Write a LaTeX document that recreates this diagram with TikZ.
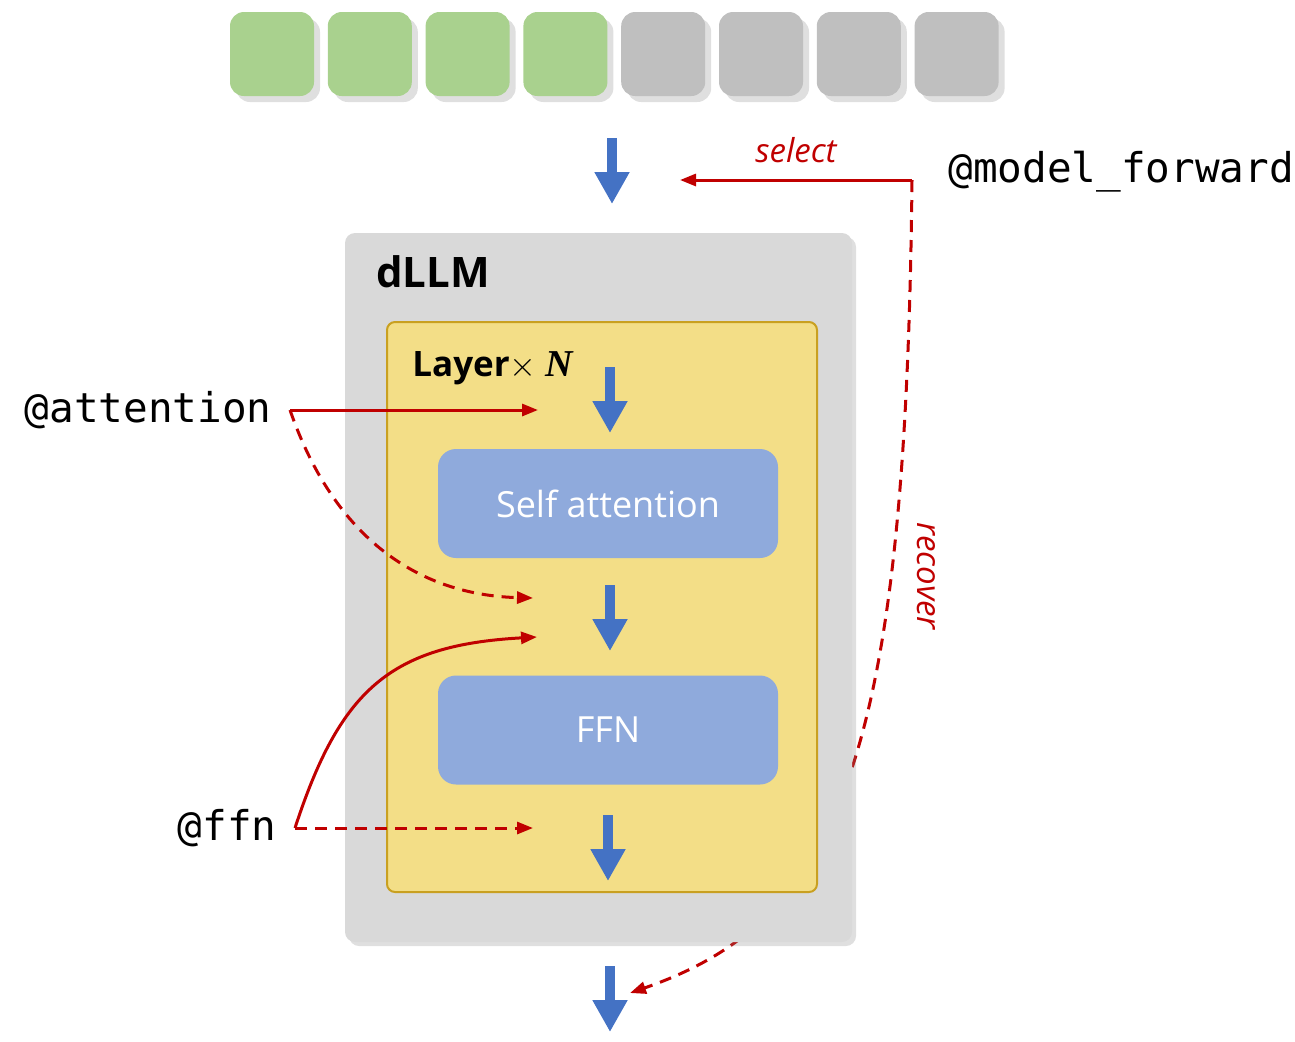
\documentclass[tikz,border=0pt]{standalone}
\usepackage{fontspec}
\setmainfont{Open Sans}
\setmonofont{DejaVu Sans Mono}
\newfontfamily\serifbi{Liberation Serif}
\usetikzlibrary{arrows.meta, positioning, calc, shadows}

\definecolor{tokgreen}{HTML}{A9D18E}
\definecolor{tokgray}{HTML}{BFBFBF}
\definecolor{tokshadow}{HTML}{DFDFDF}
\definecolor{boxgray}{HTML}{D9D9D9}
\definecolor{layeryellow}{HTML}{F3DE87}
\definecolor{layeredge}{HTML}{C9A020}
\definecolor{blockblue}{HTML}{8FAADC}
\definecolor{flowblue}{HTML}{4472C4}
\definecolor{hookred}{HTML}{C00000}

\begin{document}
\begin{tikzpicture}[x=0.5pt, y=-0.5pt,
    token/.style={rounded corners=7pt, minimum width=42pt, minimum height=42pt, inner sep=0pt},
    flow/.style={draw=flowblue, line width=5pt, -{Triangle[width=16.5pt,length=16pt]}},
    hook/.style={draw=hookred, line width=1.5pt, -{Triangle[width=6pt,length=8pt]}},
    hookdash/.style={hook, dash pattern=on 6pt off 4pt},
    block/.style={fill=blockblue, rounded corners=9pt, minimum width=170pt, minimum height=54.5pt, text=white, font=\fontsize{18}{20}\selectfont},
    tag/.style={font=\ttfamily\fontsize{20.5}{22}\selectfont, inner xsep=9pt, inner ysep=0pt},
    note/.style={text=hookred, font=\itshape\fontsize{16.5}{18}\selectfont, inner sep=0pt}
]
    \useasboundingbox (0,0) rectangle (1295,1041);

    % token row
    \foreach \i/\c in {1/tokgreen,2/tokgreen,3/tokgreen,4/tokgreen,5/tokgray,6/tokgray,7/tokgray,8/tokgray}{
        \fill[tokshadow, rounded corners=7pt] ({272+97.8*(\i-1)-36},{18}) rectangle +(84,84);
        \node[token, fill=\c] (t\i) at ({272+97.8*(\i-1)},54) {};
    }

    % hook anchors
    \coordinate (fwd) at (912,180);
    \coordinate (selT) at (680,180);
    \coordinate (aT1) at (538,410);
    \coordinate (aT2) at (533,598);
    \coordinate (fT1) at (537,637);
    \coordinate (fT2) at (533,828);
    \coordinate (recT) at (630,993);

    % recover runs behind the model box
    \draw[hookdash] (fwd) .. controls (906,760) and (840,920) .. (recT);

    \node[fill=boxgray, rounded corners=5pt, minimum width=253.5pt, minimum height=354.5pt,
          drop shadow={shadow xshift=2pt, shadow yshift=-2pt, opacity=0.25}] (dllm) at (598.5,587.5) {};
    \node[fill=layeryellow, draw=layeredge, line width=1pt, rounded corners=4pt,
          minimum width=215pt, minimum height=285pt] (layer) at (602,607) {};

    \node[anchor=west, font=\bfseries\fontsize{21}{23}\selectfont, inner sep=0pt] (title) at (376,272) {dLLM};
    \node[anchor=west, font=\bfseries\fontsize{17.5}{20}\selectfont, inner sep=0pt] (rep) at (412,368)
        {Layer$\times$ {\serifbi\bfseries\itshape\fontsize{19}{20}\selectfont N}};

    \node[block] (attnblk) at (608,503.5) {Self attention};
    \node[block] (ffnblk) at (608,730) {FFN};

    % main flow
    \foreach \k/\x/\y in {0/612/138, 1/610/367, 2/610/585, 3/608/815, 4/610/966}{
        \coordinate (fa\k) at (\x,\y);
        \coordinate (fb\k) at (\x,\y+66);
        \draw[flow] (fa\k) -- (fb\k);
    }

    % hooks
    \node[tag, anchor=east] (atag) at (290,410) {@attention};
    \node[tag, anchor=east] (ftag) at (295,828) {@ffn};
    \node[tag, anchor=west] (mtag) at (930,172) {@model\_forward};

    \draw[hook] (fwd) -- (selT) node[note, midway, above=8pt] (sellbl) {select};
    \node[note, rotate=-90] (reclbl) at (926,576) {recover};

    \draw[hook] (atag.east) -- (aT1);
    \draw[hookdash] (atag.east) .. controls (335,540) and (420,595) .. (aT2);
    \draw[hook] (ftag.east) .. controls (340,690) and (390,645) .. (fT1);
    \draw[hookdash] (ftag.east) -- (fT2);
\end{tikzpicture}
\end{document}
